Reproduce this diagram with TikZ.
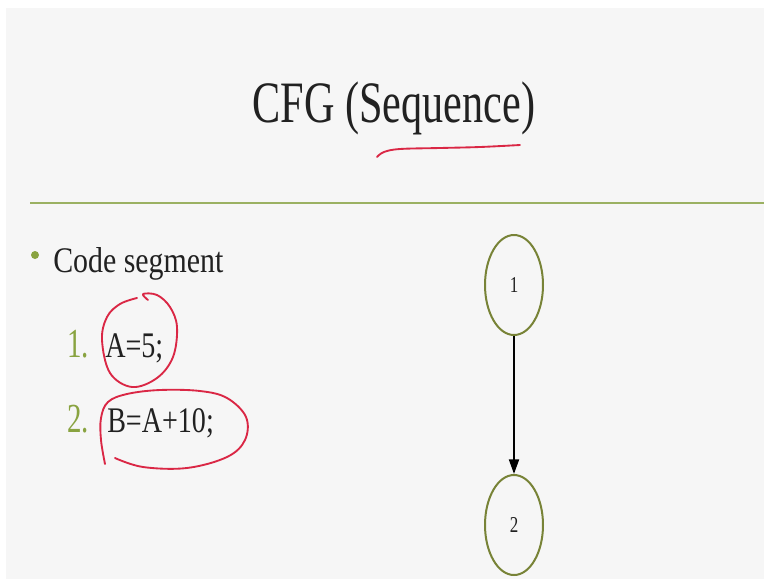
\documentclass[tikz,border=0pt]{standalone}
\usepackage{fontspec}
\setmainfont{Liberation Serif}
\usepackage{xcolor}
\usepackage{graphicx}
\usetikzlibrary{arrows.meta,shapes.geometric}
\definecolor{color_slide}{rgb}{0.965,0.965,0.965}
\definecolor{color_rule}{rgb}{0.608,0.694,0.384}
\definecolor{color_num}{rgb}{0.537,0.639,0.251}
\definecolor{color_node}{rgb}{0.471,0.514,0.216}
\definecolor{color_text}{rgb}{0.13,0.13,0.13}
\definecolor{color_ink}{rgb}{0.855,0.153,0.271}
\newcommand{\narrowtext}[2][0.78]{\scalebox{#1}[1]{#2}}
\tikzset{
  slidetext/.style={anchor=base west, inner sep=0pt, color_text},
  numtext/.style={anchor=base west, inner sep=0pt, color_num},
  cfgnode/.style={ellipse, draw=color_node, line width=1.5pt, fill=color_slide,
    minimum width=43.5pt, minimum height=75pt, inner sep=0pt, text=color_text},
  flowarrow/.style={-{Triangle[length=11pt,width=7.5pt]}, line width=1.5pt, black},
  ink/.style={color_ink, line width=1.4pt, line cap=round, line join=round}
}
\begin{document}
\begin{tikzpicture}[x=0.75pt,y=-0.75pt]
		\useasboundingbox (0,0) rectangle (764,579);
		% Fond de la diapositive
		\fill[white] (0,0) rectangle (764,579);
		\fill[color_slide] (6,8) rectangle (764,579);
		
		% Titre
		\node[anchor=base, inner sep=0pt, color_text] (title) at (394,122)
		{\fontsize{44}{48}\selectfont\narrowtext[0.72]{CFG (Sequence)}};
		\draw[ink] plot[smooth, tension=0.6] coordinates
		{(377,157) (384,152) (400,149) (440,148) (480,147) (520,145)};
		
		% Filet vert
		\draw[color_rule, line width=2.2pt] (30,203) -- (764,203);
		
		% Liste du code
		\fill[color_num] (35,255) circle (4);
		\node[slidetext] (segment) at (53,272)
		{\fontsize{27}{31}\selectfont\narrowtext[0.83]{Code segment}};
		\node[numtext] (num1) at (67,357)
		{\fontsize{31}{35}\selectfont\narrowtext[0.7]{1.}};
		\node[slidetext] (line1) at (105,357)
		{\fontsize{27}{31}\selectfont\narrowtext{A=5;}};
		\node[numtext] (num2) at (67,432)
		{\fontsize{31}{35}\selectfont\narrowtext[0.7]{2.}};
		\node[slidetext] (line2) at (107,432)
		{\fontsize{27}{31}\selectfont\narrowtext{B=A+10;}};
		
		% Annotations au stylo
		\draw[ink] plot[smooth, tension=0.6] coordinates
		{(137,298) (120,304) (107,317) (102,340) (110,373) (132,387) (157,378)
		 (173,357) (177,327) (170,307) (157,295) (143,294) (148,300)};
		\draw[ink] plot[smooth, tension=0.6] coordinates
		{(105,464) (101,440) (101,418) (108,402) (127,394) (160,390) (200,391)
		 (227,398) (246,417) (245,440) (227,457) (187,468) (143,467) (115,458)};
		
		% Graphe de flot de controle
		\node[cfgnode] (n1) at (514,285) {\fontsize{17}{19}\selectfont\narrowtext[0.75]{1}};
		\node[cfgnode] (n2) at (514,525) {\fontsize{17}{19}\selectfont\narrowtext[0.75]{2}};
		\draw[flowarrow] (n1) -- (n2);
	\end{tikzpicture}
\end{document}
